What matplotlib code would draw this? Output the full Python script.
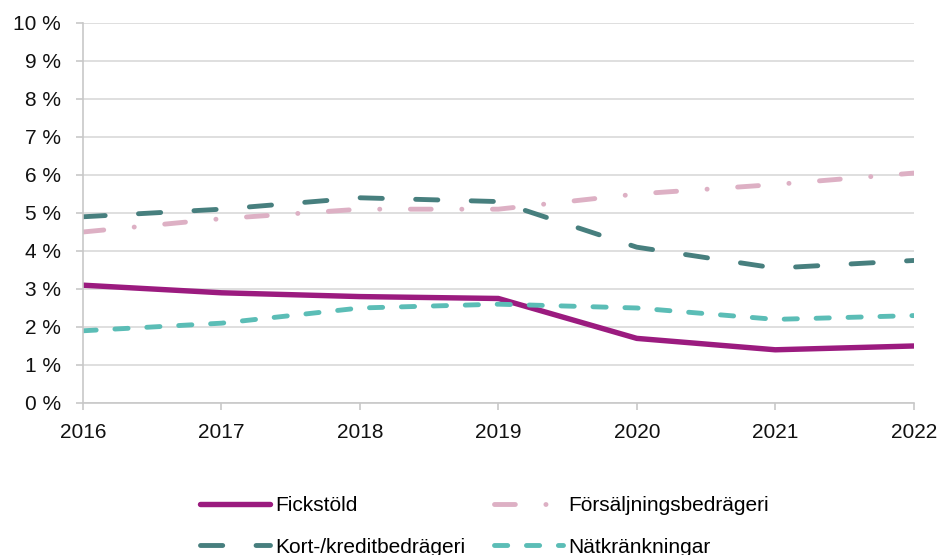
import numpy as np
import matplotlib
matplotlib.use("Agg")
import matplotlib.pyplot as plt
from matplotlib.ticker import FuncFormatter

plt.rcParams['font.family'] = ['Liberation Sans', 'DejaVu Sans']
plt.rcParams['lines.scale_dashes'] = False

years = [2016, 2017, 2018, 2019, 2020, 2021, 2022]
fickstold = [3.1, 2.9, 2.8, 2.75, 1.7, 1.4, 1.5]
forsaljning = [4.5, 4.85, 5.1, 5.1, 5.5, 5.75, 6.05]
kort_kredit = [4.9, 5.1, 5.4, 5.3, 4.1, 3.55, 3.75]
natkrankning = [1.9, 2.1, 2.5, 2.6, 2.5, 2.2, 2.3]

labels = ['Fickstöld', 'Försäljningsbedrägeri', 'Kort-/kreditbedrägeri', 'Nätkränkningar']
colors = ['#9B1B7F', '#DDB0C4', '#477F7E', '#5BBDB6']

fig = plt.figure(figsize=(9.4, 5.55), dpi=100)
ax = fig.add_axes([0.0883, 0.2739, 0.972 - 0.0883, 0.9586 - 0.2739])

l1, = ax.plot(years, fickstold, color=colors[0], lw=3.9, solid_capstyle='round',
              solid_joinstyle='round', label=labels[0])
l2, = ax.plot(years, forsaljning, color=colors[1], lw=3.5, dash_capstyle='round',
              dashes=(15, 22, 0.1, 22), label=labels[1])
l3, = ax.plot(years, kort_kredit, color=colors[2], lw=3.5, dash_capstyle='round',
              dashes=(16, 24), label=labels[2])
l4, = ax.plot(years, natkrankning, color=colors[3], lw=3.5, dash_capstyle='round',
              dashes=(9.5, 13.5), label=labels[3])

ax.set_xlim(2016, 2022)
ax.set_ylim(0, 10)
ax.set_xticks(years)
ax.set_yticks(np.arange(0, 11, 1))
ax.yaxis.set_major_formatter(FuncFormatter(lambda v, p: f'{int(v)} %'))

ax.grid(axis='y', color='#D9D9D9', lw=1.2)
ax.set_axisbelow(True)
for s in ['top', 'right']:
    ax.spines[s].set_visible(False)
for s in ['left', 'bottom']:
    ax.spines[s].set_color('#C8C8C8')
    ax.spines[s].set_linewidth(1.2)
ax.tick_params(axis='both', colors='#C8C8C8', labelcolor='#111111', labelsize=15,
               length=5, width=1.2)
ax.tick_params(axis='x', pad=9.5)
ax.tick_params(axis='y', pad=11)

fig.legend([l1, l3, l2, l4], [labels[0], labels[2], labels[1], labels[3]],
           ncol=2, loc='upper left', bbox_to_anchor=(200 / 940, 1 - 496 / 555),
           frameon=False, borderpad=0, borderaxespad=0,
           fontsize=15, handlelength=3.35, handletextpad=0.25, columnspacing=1.37,
           labelspacing=1.09)

fig.savefig('out.png', dpi=100)
